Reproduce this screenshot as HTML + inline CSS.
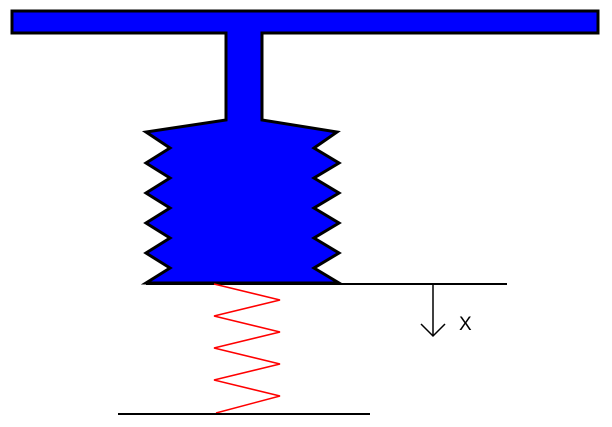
<!DOCTYPE html><html><head><style>body{margin:0;background:#fff}svg{display:block}</style></head><body>
<svg width="612" height="427" viewBox="0 0 612 427" xmlns="http://www.w3.org/2000/svg">
<path d="M12,11 L598,11 L598,33 L262,33 L262,120 L337,132 L314,148 L339,163 L314,178 L339,193 L314,208 L339,223 L314,238 L339,253 L314,268 L339,283 L146,283 L170,268 L146,253 L170,238 L146,223 L170,208 L146,193 L170,178 L146,163 L170,148 L146,132 L226,120 L226,33 L12,33 Z" fill="#0000ff" stroke="#000" stroke-width="3" stroke-linejoin="miter"/>
<line x1="146" y1="284" x2="507" y2="284" stroke="#000" stroke-width="2"/>
<polyline points="214,284 280,300 214,316 280,332 214,348 280,364 214,380 280,396 216,413" fill="none" stroke="#ff0000" stroke-width="1.5"/>
<line x1="118" y1="414" x2="370" y2="414" stroke="#000" stroke-width="2"/>
<line x1="433" y1="284" x2="433" y2="336" stroke="#000" stroke-width="1.5"/>
<polyline points="421,324 433,336 445,324" fill="none" stroke="#000" stroke-width="1.5"/>
<text x="459" y="330" font-family="Liberation Sans, sans-serif" font-size="19" fill="#000">X</text>
</svg></body></html>
